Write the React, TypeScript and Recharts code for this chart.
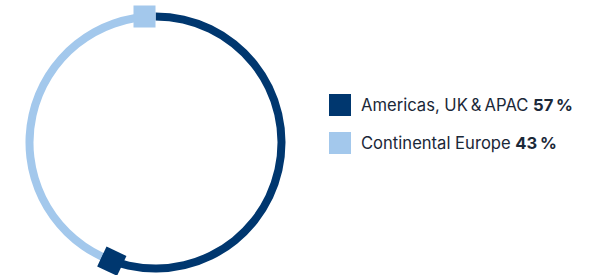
import { PieChart, Pie, Cell } from 'recharts';

const regions = ['Americas, UK\u2009&\u2009APAC', 'Continental Europe'];
const shares = [57, 43];
const COLORS = ['#00376f', '#a3c8ec'];

const data = regions.map((name, i) => ({ name, value: shares[i] }));

const R_OUT = 130;
const R_IN = 122;
const CAP = 22;

// square cap sitting at the clockwise end of each arc
const EndCap = (props: any) => {
  const { cx, cy, endAngle, index } = props;
  const r = (R_IN + R_OUT) / 2;
  const a = (endAngle * Math.PI) / 180;
  const px = cx + r * Math.cos(a);
  const py = cy - r * Math.sin(a);
  const x = px + (CAP / 2) * -Math.sin(a);
  const y = py + (CAP / 2) * -Math.cos(a);
  const rot = 90 - endAngle;
  return (
    <rect
      x={-CAP / 2}
      y={-CAP / 2}
      width={CAP}
      height={CAP}
      fill={COLORS[index % COLORS.length]}
      transform={`translate(${x},${y}) rotate(${rot})`}
    />
  );
};

export default function App() {
  return (
    <div style={{ position: 'absolute', left: 0, top: 0, width: 593, height: 275, background: '#fff' }}>
      <PieChart width={593} height={275} margin={{ top: 0, right: 0, bottom: 0, left: 0 }}>
        <Pie
          data={data}
          dataKey="value"
          nameKey="name"
          cx={155.5}
          cy={142.5}
          innerRadius={R_IN}
          outerRadius={R_OUT}
          startAngle={90}
          endAngle={-270}
          stroke="none"
          label={EndCap}
          labelLine={false}
          isAnimationActive={false}
        >
          {data.map((entry, index) => (
            <Cell key={`cell-${index}`} fill={COLORS[index % COLORS.length]} />
          ))}
        </Pie>
      </PieChart>
      {/* legend */}
      <div style={{ position: 'absolute', left: 329, top: 94, fontFamily: 'Inter, "Open Sans", sans-serif', fontSize: 16.6, color: '#1b2838' }}>
        {data.map((d, i) => (
          <div key={d.name} style={{ display: 'flex', alignItems: 'center', height: 22, marginBottom: i === 0 ? 16 : 0, whiteSpace: 'nowrap' }}>
            <span style={{ width: 22, height: 22, background: COLORS[i], display: 'inline-block', marginRight: 10 }} />
            <span>
              {d.name} <strong style={{ fontWeight: 700 }}>{d.value}&thinsp;%</strong>
            </span>
          </div>
        ))}
      </div>
    </div>
  );
}
